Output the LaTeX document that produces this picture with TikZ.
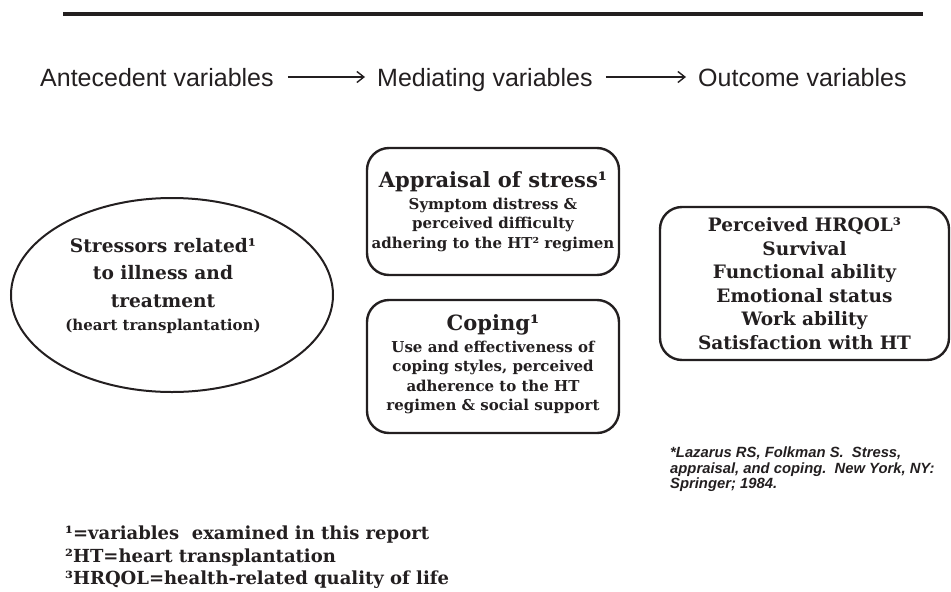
\documentclass[tikz,border=0pt]{standalone}
\usepackage{fontspec}
\setmainfont{DejaVu Serif}
\newfontfamily\arialf{Liberation Sans}
\usetikzlibrary{shapes.geometric,arrows.meta}
\definecolor{ink}{RGB}{35,31,32}
\newcommand{\bigttl}{\fontsize{21}{25}\selectfont}
\begin{document}
\begin{tikzpicture}[x=1pt,y=-1pt,
  every node/.style={text=ink, inner sep=0pt},
  head/.style={anchor=base west, font=\arialf\fontsize{25}{30}\selectfont},
  flow/.style={draw=ink, line width=1.4pt, -{Straight Barb[length=7pt,width=11pt,line width=1.4pt]}},
  rbox/.style={draw=ink, line width=2.4pt, rounded corners=22pt, align=center},
  midtxt/.style={font=\bfseries\fontsize{15}{19.5}\selectfont},
]
\useasboundingbox (0,0) rectangle (951,592);
% top rule
\coordinate (ruleL) at (63,14);
\coordinate (ruleR) at (923,14);
\draw[ink, line width=4pt] (ruleL) -- (ruleR);

% header
\node[head] (ante) at (40,86) {Antecedent variables};
\node[head] (med) at (377,86) {Mediating variables};
\node[head] (out) at (698,86) {Outcome variables};
\draw[flow] ([xshift=14pt,yshift=9pt]ante.base east) -- ([xshift=-12pt,yshift=9pt]med.base west);
\draw[flow] ([xshift=13pt,yshift=9pt]med.base east) -- ([xshift=-12pt,yshift=9pt]out.base west);

% antecedent ellipse
\node[ellipse, draw=ink, line width=2pt, minimum width=322pt, minimum height=194pt] (stress) at (172,295) {};
\node[align=center, font=\bfseries\fontsize{18.6}{27.5}\selectfont] (stresslbl) at (163,286)
  {Stressors related¹\\ to illness and\\ treatment\\[-4pt] \fontsize{15}{20}\selectfont (heart transplantation)};

% mediating boxes
\node[rbox, midtxt, minimum width=252pt, minimum height=127pt] (appr) at (493,211.5)
  {\bigttl Appraisal of stress¹\\[2pt] Symptom distress \&\\ perceived difficulty\\ adhering to the HT² regimen};
\node[rbox, midtxt, minimum width=252pt, minimum height=133pt] (cope) at (493,366.5)
  {\mbox{}\\[-8pt]\bigttl Coping¹\\[2pt] Use and effectiveness of\\ coping styles, perceived\\ adherence to the HT\\ regimen \& social support};

% outcome box
\node[rbox, font=\bfseries\fontsize{18.5}{23.6}\selectfont, minimum width=289pt, minimum height=153pt] (outc) at (804.5,283.5)
  {Perceived HRQOL³\\ Survival\\ Functional ability\\ Emotional status\\ Work ability\\ Satisfaction with HT};

% reference
\node[anchor=north west, align=left, font=\arialf\bfseries\itshape\fontsize{14.8}{15.5}\selectfont] (ref) at (670,447)
  {*Lazarus RS, Folkman S.\ \ Stress,\\ appraisal, and coping.\ \ New York, NY:\\ Springer; 1984.};

% footnotes
\node[anchor=north west, align=left, font=\bfseries\fontsize{18}{22.5}\selectfont] (notes) at (65,526)
  {¹=variables\ \ examined in this report\\ ²HT=heart transplantation\\ ³HRQOL=health-related quality of life};
\end{tikzpicture}
\end{document}
